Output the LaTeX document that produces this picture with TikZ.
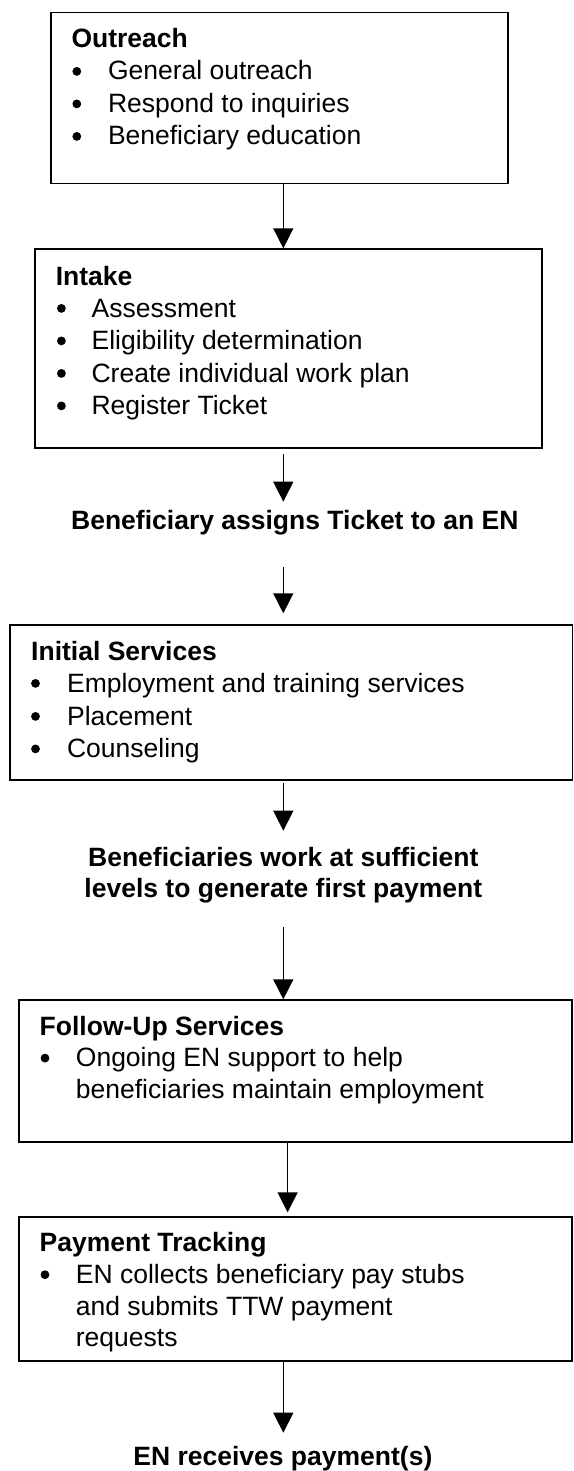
\documentclass[tikz,border=0pt]{standalone}
\usepackage{fontspec}
\setmainfont{Liberation Sans}
\usetikzlibrary{arrows.meta}
\begin{document}
\begin{tikzpicture}[x=1pt,y=-1pt,
  box/.style={draw, line width=1.6pt, rectangle, inner sep=0pt, anchor=north west},
  ttl/.style={font=\fontsize{26.5}{32.5}\selectfont\bfseries, anchor=base west, inner sep=0pt},
  txt/.style={font=\fontsize{26.5}{32.5}\selectfont, anchor=base west, inner sep=0pt},
  bul/.style={circle, fill=black, inner sep=0pt, minimum size=8.8pt, yshift=8.6pt},
  lbl/.style={font=\fontsize{26.5}{32.5}\selectfont\bfseries, anchor=base, inner sep=0pt},
  arr/.style={line width=1.5pt, -{Triangle[width=20pt,length=20pt]}}]
\fill[white] (0,0) rectangle (573,1471);
\useasboundingbox (0,0) rectangle (573,1471);

% axis coordinates for connectors
\coordinate (ax) at (283.3,0);

% Outreach
\node[box, minimum width=456.6pt, minimum height=171pt] (outreach) at (50.4,11.7) {};
\node[ttl] (outT) at (71.3,47.3) {Outreach};
\node[bul] (outB1) at (76.8,80) {};
\node[txt] (out1) at (107.8,80) {General outreach};
\node[bul] (outB2) at (76.8,112.5) {};
\node[txt] (out2) at (107.8,112.5) {Respond to inquiries};
\node[bul] (outB3) at (76.8,145) {};
\node[txt] (out3) at (107.8,145) {Beneficiary education};

% Intake
\node[box, minimum width=507pt, minimum height=199pt] (intake) at (34,248.3) {};
\node[ttl] (inT) at (55.6,285) {Intake};
\node[bul] (inB1) at (61.4,317) {};
\node[txt] (in1) at (91.4,317) {Assessment};
\node[bul] (inB2) at (61.4,349.5) {};
\node[txt] (in2) at (91.4,349.5) {Eligibility determination};
\node[bul] (inB3) at (61.4,382) {};
\node[txt] (in3) at (91.4,382) {Create individual work plan};
\node[bul] (inB4) at (61.4,414.5) {};
\node[txt] (in4) at (91.4,414.5) {Register Ticket};

% Label 1
\node[lbl] (lab1) at (294.8,529.3) {Beneficiary assigns Ticket to an EN};

% Initial Services
\node[box, minimum width=562.4pt, minimum height=154.7pt] (initial) at (9.1,624.3) {};
\node[ttl] (iniT) at (31,660) {Initial Services};
\node[bul] (iniB1) at (35.5,692) {};
\node[txt] (ini1) at (66.9,692) {Employment and training services};
\node[bul] (iniB2) at (35.5,725) {};
\node[txt] (ini2) at (66.9,725) {Placement};
\node[bul] (iniB3) at (35.5,757.5) {};
\node[txt] (ini3) at (66.9,757.5) {Counseling};

% Label 2
\node[lbl] (lab2a) at (283.3,866) {Beneficiaries work at sufficient};
\node[lbl] (lab2b) at (283.3,897) {levels to generate first payment};

% Follow-Up Services
\node[box, minimum width=552.7pt, minimum height=141.7pt] (follow) at (18.3,999.3) {};
\node[ttl] (folT) at (39.5,1035) {Follow-Up Services};
\node[bul] (folB1) at (45,1066.7) {};
\node[txt] (fol1) at (75.7,1066.7) {Ongoing EN support to help};
\node[txt] (fol2) at (75.7,1098) {beneficiaries maintain employment};

% Payment Tracking
\node[box, minimum width=552.7pt, minimum height=144pt] (payment) at (18.3,1216) {};
\node[ttl] (payT) at (39.5,1251.7) {Payment Tracking};
\node[bul] (payB1) at (45,1283.3) {};
\node[txt] (pay1) at (75.7,1283.3) {EN collects beneficiary pay stubs};
\node[txt] (pay2) at (75.7,1315) {and submits TTW payment};
\node[txt] (pay3) at (75.7,1346) {requests};

% Label 3
\node[lbl] (lab3) at (282.9,1465) {EN receives payment(s)};

% connector end points
\coordinate (a2s) at (283.3,454);
\coordinate (a2e) at (283.3,501.7);
\coordinate (a3s) at (283.3,567.3);
\coordinate (a3e) at (283.3,613.3);
\coordinate (a4s) at (283.3,783.3);
\coordinate (a4e) at (283.3,830.7);
\coordinate (a5s) at (283.3,927.3);
\coordinate (a6s) at (287.6,1143.3);
\coordinate (a6e) at (287.6,1212.3);
\coordinate (a7e) at (283.3,1432.7);

% connectors
\draw[arr] (outreach.south -| ax) -- (intake.north -| ax);
\draw[arr] (a2s) -- (a2e);
\draw[arr] (a3s) -- (a3e);
\draw[arr] (a4s) -- (a4e);
\draw[arr] (a5s) -- (follow.north -| ax);
\draw[arr] (a6s) -- (a6e);
\draw[arr] (payment.south -| ax) -- (a7e);
\end{tikzpicture}
\end{document}
